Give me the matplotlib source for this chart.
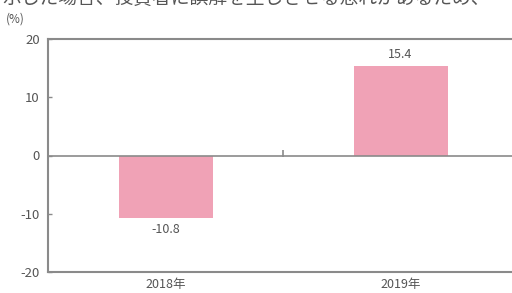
import matplotlib.pyplot as plt

plt.rcParams['font.family'] = ['Noto Sans CJK JP', 'DejaVu Sans']
plt.rcParams['axes.unicode_minus'] = False

# data
years = ['2018年', '2019年']
values = [-10.8, 15.4]
value_labels = ['-10.8', '15.4']
yticks = [-20, -10, 0, 10, 20]
note = '示した場合、投資者に誤解を生じさせる恐れがあるため、'

text_color = '#555555'
axis_color = '#8a8a8a'
bar_color = '#f0a2b6'

fig = plt.figure(figsize=(5.12, 2.93), dpi=100)
ax = fig.add_axes([48 / 512, 21 / 293, 470 / 512, 233 / 293])

x = list(range(len(years)))
ax.bar(x, values, width=0.4, color=bar_color, zorder=2)

# value labels
for xi, v, lab in zip(x, values, value_labels):
    if v >= 0:
        ax.text(xi, v + 0.8, lab, ha='center', va='bottom', fontsize=9, color=text_color)
    else:
        ax.text(xi, v - 0.8, lab, ha='center', va='top', fontsize=9, color=text_color)

ax.set_xlim(-0.5, 1.5)
ax.set_ylim(-20, 20)
ax.set_yticks(yticks)
ax.set_xticks(x)
ax.set_xticklabels(years)

ax.axhline(0, color=axis_color, lw=1.2, zorder=3)
ax.vlines(0.5, -0.3, 1.0, color=axis_color, lw=1.2, zorder=3)

for side in ['left', 'top', 'bottom']:
    ax.spines[side].set_color(axis_color)
    ax.spines[side].set_linewidth(1.5)
ax.spines['right'].set_visible(False)

ax.tick_params(axis='y', direction='in', length=3, width=1, color=axis_color,
               labelsize=9.5, labelcolor=text_color, pad=6)
ax.tick_params(axis='x', length=0, labelsize=9, labelcolor=text_color, pad=4)

fig.text(6 / 512, 1 - 19 / 293, '(%)', fontsize=8.5, color=text_color, va='center')
fig.text(2 / 512, 1.005, note, fontsize=13.5, color=text_color, va='center')

fig.savefig('out.png', dpi=100)
